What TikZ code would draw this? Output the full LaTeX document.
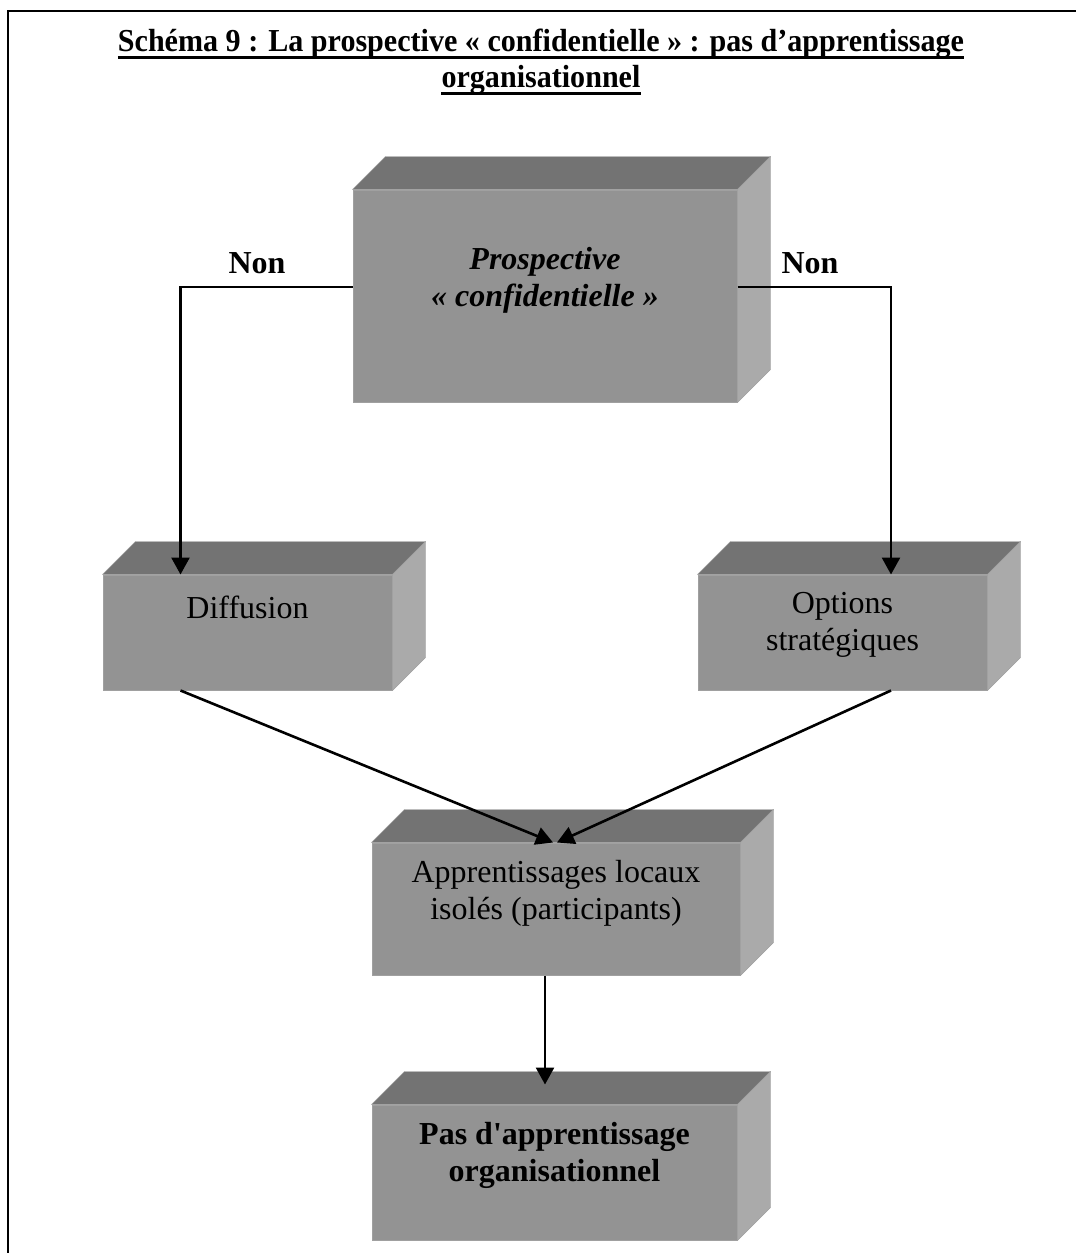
\documentclass[tikz,border=0pt]{standalone}
\usepackage{fontspec}
\setmainfont{Liberation Serif}
\usetikzlibrary{arrows.meta}

\definecolor{facegray}{RGB}{147,147,147}
\definecolor{topgray}{RGB}{115,115,115}
\definecolor{sidegray}{RGB}{170,170,170}
\definecolor{edgegray}{RGB}{160,160,160}

% top and right faces of a block
\newcommand{\relief}[1]{%
  \filldraw[fill=topgray,draw=edgegray] (#1.north west) -- ++(33,-33) -- ([shift={(33,-33)}]#1.north east) -- (#1.north east) -- cycle;
  \filldraw[fill=sidegray,draw=edgegray] (#1.north east) -- ++(33,-33) -- ([shift={(33,-33)}]#1.south east) -- (#1.south east) -- cycle;}

\begin{document}
\begin{tikzpicture}[x=1pt,y=-1pt,
  bloc/.style={fill=facegray,draw=edgegray,line width=1pt,inner sep=0pt},
  txt/.style={align=center,font=\fontsize{32}{37}\selectfont},
  titrestyle/.style={inner sep=0pt,anchor=base,xscale=0.94,transform shape,font=\fontsize{32}{37}\selectfont\bfseries},
  fleche/.style={line width=2.6pt,-{Triangle[length=17pt,width=18pt]}}]
\useasboundingbox (0,0) rectangle (1076,1253);
\draw[line width=2.5pt] (8,1253) -- (8,11) -- (1076,11);

% title
\node[titrestyle] (titre1) at (541,51) {Schéma 9 : La prospective « confidentielle » : pas d’apprentissage};
\node[titrestyle] (titre2) at (541,87) {organisationnel};
\draw[line width=3pt] ([yshift=-6pt]titre1.base west) -- ([yshift=-6pt]titre1.base east);
\draw[line width=3pt] ([yshift=-6pt]titre2.base west) -- ([yshift=-6pt]titre2.base east);

% blocks
\node[bloc,minimum width=384,minimum height=212] (prosp) at (545,296) {};
\relief{prosp}
\node[bloc,minimum width=289,minimum height=115] (diff) at (247.5,632.5) {};
\relief{diff}
\node[bloc,minimum width=289,minimum height=115] (opt) at (842.5,632.5) {};
\relief{opt}
\node[bloc,minimum width=368,minimum height=132] (appr) at (556,909) {};
\relief{appr}
\node[bloc,minimum width=365,minimum height=135] (pas) at (554.5,1172.5) {};
\relief{pas}

\node[txt,font=\fontsize{32}{37}\selectfont\bfseries\itshape] (prosp-t) at (545,280) {Prospective\\« confidentielle »};
\node[txt] (diff-t) at (247.5,607) {Diffusion};
\node[txt] (opt-t) at (842.5,625) {Options\\stratégiques};
\node[txt] (appr-t) at (556,893) {Apprentissages locaux\\isolés (participants)};
\node[txt,font=\fontsize{32}{37}\selectfont\bfseries] (pas-t) at (554.5,1155) {Pas d\textquotesingle apprentissage\\organisationnel};

\node[txt,font=\fontsize{32}{37}\selectfont\bfseries] (non-g) at (257,263) {Non};
\node[txt,font=\fontsize{32}{37}\selectfont\bfseries] (non-d) at (810,263) {Non};

% connectors
\draw[fleche] ([yshift=9pt]prosp.west) -| ([xshift=-67pt]diff.north);
\draw[fleche] ([yshift=9pt]prosp.east) -| ([xshift=48.5pt]opt.north);
\draw[fleche] ([xshift=-67pt]diff.south) -- ([xshift=-3pt]appr.north);
\draw[fleche] ([xshift=48.5pt]opt.south) -- ([xshift=1pt]appr.north);
\draw[fleche] ([xshift=-11pt]appr.south) -- ([xshift=-9.5pt,yshift=20pt]pas.north);
\end{tikzpicture}
\end{document}
